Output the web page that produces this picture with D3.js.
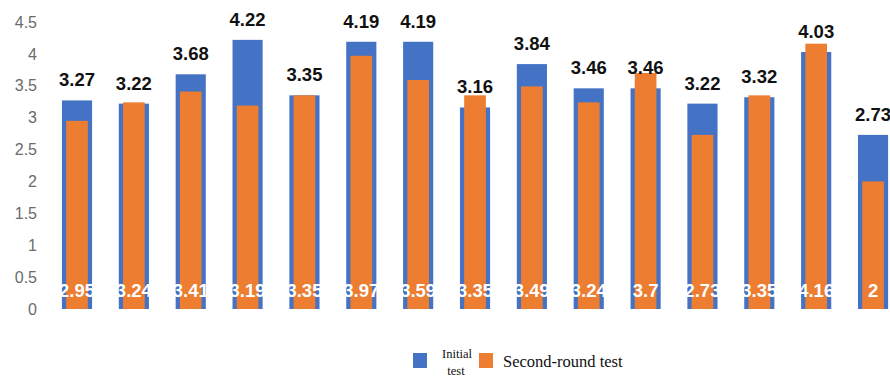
<!DOCTYPE html>
<html>
<head>
<meta charset="utf-8">
<script src="https://cdn.jsdelivr.net/npm/d3@7"></script>
<style>
  html, body { margin: 0; padding: 0; background: #fff; }
  svg { display: block; }
</style>
</head>
<body>
<svg id="chart" width="890" height="377"></svg>
<script>
// Fifteen test items, scored in two rounds
const categories = d3.range(1, 16).map(String);
const initialTest = [3.27, 3.22, 3.68, 4.22, 3.35, 4.19, 4.19, 3.16, 3.84, 3.46, 3.46, 3.22, 3.32, 4.03, 2.73];
const secondRound = [2.95, 3.24, 3.41, 3.19, 3.35, 3.97, 3.59, 3.35, 3.49, 3.24, 3.7, 2.73, 3.35, 4.16, 2];
const yTicks = [0, 0.5, 1, 1.5, 2, 2.5, 3, 3.5, 4, 4.5];
const seriesNames = ["Initial test", "Second-round test"];

const BLUE = "#4472C4";
const ORANGE = "#ED7D31";

const svg = d3.select("#chart");

const step = 56.86;
const x = d3.scaleBand()
  .domain(categories)
  .range([77 - step / 2, 77 - step / 2 + step * categories.length])
  .paddingInner(0.47)
  .paddingOuter(0.235);

const y = d3.scaleLinear().domain([0, 4.5]).range([309, 22]);

// Value axis: labels only, no line or ticks
const yAxis = d3.axisLeft(y)
  .tickValues(yTicks)
  .tickFormat(d => String(d))
  .tickSize(0)
  .tickPadding(0);
const gy = svg.append("g")
  .attr("transform", "translate(37,0)")
  .call(yAxis);
gy.select(".domain").remove();
gy.selectAll("text")
  .attr("fill", "#6b6b6b")
  .attr("font-family", "'Liberation Sans', Arial, sans-serif")
  .attr("font-size", 16);

// Initial-test bars (wide, behind)
const inner = x.bandwidth() * 0.72;
svg.append("g").selectAll("rect")
  .data(initialTest)
  .join("rect")
  .attr("x", (d, i) => x(categories[i]))
  .attr("width", x.bandwidth())
  .attr("y", d => y(d))
  .attr("height", d => y(0) - y(d))
  .attr("fill", BLUE);

// Second-round bars (narrow, in front)
svg.append("g").selectAll("rect")
  .data(secondRound)
  .join("rect")
  .attr("x", (d, i) => x(categories[i]) + (x.bandwidth() - inner) / 2)
  .attr("width", inner)
  .attr("y", d => y(d))
  .attr("height", d => y(0) - y(d))
  .attr("fill", ORANGE);

// Initial-test values above bars
svg.append("g").selectAll("text")
  .data(initialTest)
  .join("text")
  .attr("x", (d, i) => x(categories[i]) + x.bandwidth() / 2)
  .attr("y", d => y(d) - 14)
  .attr("text-anchor", "middle")
  .attr("font-family", "'Liberation Sans', Arial, sans-serif")
  .attr("font-weight", "bold")
  .attr("font-size", 18.5)
  .attr("fill", "#111")
  .text(d => d);

// Second-round values near the base
svg.append("g").selectAll("text")
  .data(secondRound)
  .join("text")
  .attr("x", (d, i) => x(categories[i]) + x.bandwidth() / 2)
  .attr("y", y(0.19))
  .attr("text-anchor", "middle")
  .attr("font-family", "'Liberation Sans', Arial, sans-serif")
  .attr("font-weight", "bold")
  .attr("font-size", 18.5)
  .attr("fill", "#fff")
  .text(d => d);

// Legend
const legend = svg.append("g").attr("font-family", "'Liberation Serif', 'Times New Roman', serif").attr("fill", "#111");
legend.append("rect").attr("x", 413).attr("y", 353).attr("width", 14).attr("height", 15).attr("fill", BLUE);
const initText = legend.append("text").attr("x", 457).attr("text-anchor", "middle").attr("font-size", 12.5);
const [w1, w2] = seriesNames[0].split(" ");
initText.append("tspan").attr("x", 457).attr("y", 358).text(w1);
initText.append("tspan").attr("x", 456).attr("y", 375).text(w2);
legend.append("rect").attr("x", 479).attr("y", 353).attr("width", 14).attr("height", 15).attr("fill", ORANGE);
legend.append("text").attr("x", 503).attr("y", 367).attr("font-size", 16.5).text(seriesNames[1]);
</script>
</body>
</html>
